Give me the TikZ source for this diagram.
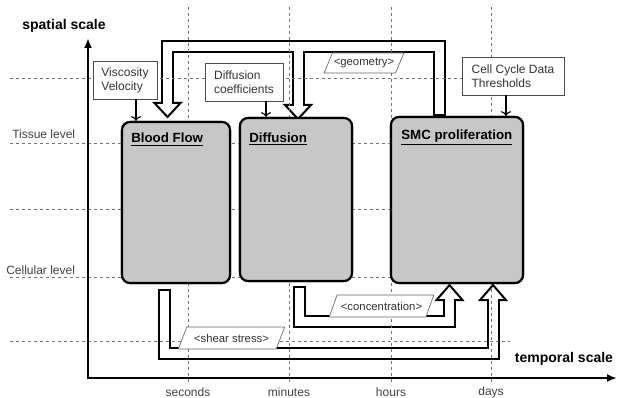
\documentclass[tikz,border=0pt]{standalone}
\usepackage{fontspec}
\setmainfont{Liberation Sans}
\usetikzlibrary{calc,arrows.meta,shapes.geometric}
\tikzset{module/.style={draw=black, line width=1.6pt, rounded corners=6pt, fill=black!22}}
\tikzset{title/.style={anchor=base west, inner sep=0pt, font=\fontsize{10}{12}\selectfont\bfseries}}
\tikzset{param/.style={draw=black!70, line width=0.6pt, fill=white, align=left, text=black!80, font=\fontsize{9}{10.5}\selectfont}}
\tikzset{grid/.style={black!55, line width=0.6pt, dash pattern=on 2.5pt off 2pt}}
\tikzset{axis/.style={{Latex[length=7.5pt,width=6pt]}-{Latex[length=7.5pt,width=6pt]}, line width=1.9pt}}
\tikzset{feed/.style={->, line width=0.9pt}}
\tikzset{bandout/.style={black, line width=9.75pt, line join=miter}}
\tikzset{bandin/.style={white, line width=6.75pt, line join=miter, shorten <=1.5pt, shorten >=-1.5pt}}
\tikzset{bandhead/.style={draw=black, fill=white, line width=1.5pt, line join=miter}}
\tikzset{headdown/.pic={\draw[bandhead] (-13,0) -- (0,14) -- (13,0) -- cycle;}}
\tikzset{headup/.pic={\draw[bandhead] (-13,0) -- (0,-15) -- (13,0) -- cycle;}}
\tikzset{tag/.style={trapezium, trapezium left angle=56, trapezium right angle=124, trapezium stretches=true, draw=black!60, line width=0.5pt, fill=white, text=black!80, inner sep=1pt, font=\fontsize{8.5}{10}\selectfont}}
\tikzset{level/.style={anchor=west, inner sep=0pt, text=black!75, font=\fontsize{9}{11}\selectfont}}
\tikzset{time/.style={text=black!75, inner sep=0pt, font=\fontsize{9}{11}\selectfont}}

\begin{document}
\begin{tikzpicture}[x=0.75pt, y=-0.75pt]
  \useasboundingbox (0,0) rectangle (618,398);

  % modules
  \node[module, minimum width=81pt, minimum height=120.75pt] (blood) at (176,202.5) {};
  \node[module, minimum width=84pt, minimum height=122.25pt] (dif) at (296,199.5) {};
  \node[module, minimum width=99pt, minimum height=124.5pt] (smc) at (457,200) {};

  % wide arrows
  \coordinate (smcout) at ($(smc.north)+(-18,0)$);
  \coordinate (geo) at (167.5,46.5);
  \coordinate (bfin) at (167.5,103);
  \coordinate (difin) at (298,105);
  \coordinate (bfout) at ($(blood.south)+(-12,5)$);
  \coordinate (shear) at (164,354);
  \coordinate (smcin2) at ($(smc.south)+(36,16)$);
  \coordinate (difout) at ($(dif.south)+(3,4)$);
  \coordinate (conc) at (299,322);
  \coordinate (smcin1) at ($(smc.south)+(-7.5,16)$);

  \draw[bandout] (smcout) |- (geo) -- (bfin);
  \draw[bandout] (difin |- geo) -- (difin);
  \draw[bandout] (bfout) -- (shear) -| (smcin2);
  \draw[bandout] (difout) -- (conc) -| (smcin1);
  \pic at (bfin) {headdown};
  \pic at (difin) {headdown};
  \pic at (smcin1) {headup};
  \pic at (smcin2) {headup};
  \draw[bandin] (smcout) |- (geo) -- (bfin);
  \draw[bandin, shorten <=0pt] (difin |- geo) -- (difin);
  \draw[bandin] (bfout) -- (shear) -| (smcin2);
  \draw[bandin] (difout) -- (conc) -| (smcin1);

  % grid
  \draw[grid] (188,7) -- (188,385);
  \draw[grid] (289,7) -- (289,385);
  \draw[grid] (391,7) -- (391,385);
  \draw[grid] (491,7) -- (491,385);
  \draw[grid] (10,78) -- (510,78);
  \draw[grid] (10,143) -- (510,143);
  \draw[grid] (10,209) -- (510,209);
  \draw[grid] (10,277) -- (510,277);
  \draw[grid] (10,341) -- (510,341);

  % axes
  \coordinate (ytip) at (88,38);
  \coordinate (origin) at (88,378);
  \coordinate (xtip) at (617,378);
  \draw[axis] (ytip) -- (origin) -- (xtip);
  \node[font=\fontsize{10.5}{12}\selectfont\bfseries] (spatial) at (64,26) {spatial scale};
  \node[font=\fontsize{10.5}{12}\selectfont\bfseries] (temporal) at (564,359) {temporal scale};
  \node[level] (tissue) at (12,134) {Tissue level};
  \node[level] (cellular) at (6,270) {Cellular level};
  \node[time] (sec) at (188,392) {seconds};
  \node[time] (min) at (289,392) {minutes};
  \node[time] (hrs) at (391,392) {hours};
  \node[time] (days) at (491,392) {days};

  % modules on top of grid
  \node[module, minimum width=81pt, minimum height=120.75pt] at (blood) {};
  \node[module, minimum width=84pt, minimum height=122.25pt] at (dif) {};
  \node[module, minimum width=99pt, minimum height=124.5pt] at (smc) {};
  \node[title] (bloodtitle) at (131,143) {\underline{Blood Flow}};
  \node[title] (diftitle) at (249,142.5) {\underline{Diffusion}};
  \node[title] (smctitle) at (401,139.5) {\underline{SMC proliferation}};

  % inputs
  \node[param, minimum width=48pt, minimum height=28.5pt] (visc) at (125,80) {Viscosity\\Velocity};
  \node[param, minimum width=58.5pt, minimum height=28.5pt] (difc) at (244,82) {Diffusion\\coefficients};
  \node[param, minimum width=76.5pt, minimum height=28.5pt] (cell) at (513,76) {Cell Cycle Data\\Thresholds};
  \coordinate (viscout) at ($(visc.south)+(11,0)$);
  \coordinate (difcout) at ($(difc.south)+(22,0)$);
  \coordinate (cellout) at ($(cell.south)+(-7,0)$);
  \draw[feed] (viscout) -- (viscout |- blood.north);
  \draw[feed] (difcout) -- (difcout |- dif.north);
  \draw[feed] (cellout) -- (cellout |- smc.north);

  % exchanged quantities
  \node[tag, minimum width=58.5pt, minimum height=15pt] (geotag) at (364,63) {<geometry>};
  \node[tag, minimum width=80pt, minimum height=16.5pt] (sheartag) at (231.5,338) {<shear stress>};
  \node[tag, minimum width=79pt, minimum height=16.5pt] (conctag) at (381.5,306) {<concentration>};
\end{tikzpicture}
\end{document}
